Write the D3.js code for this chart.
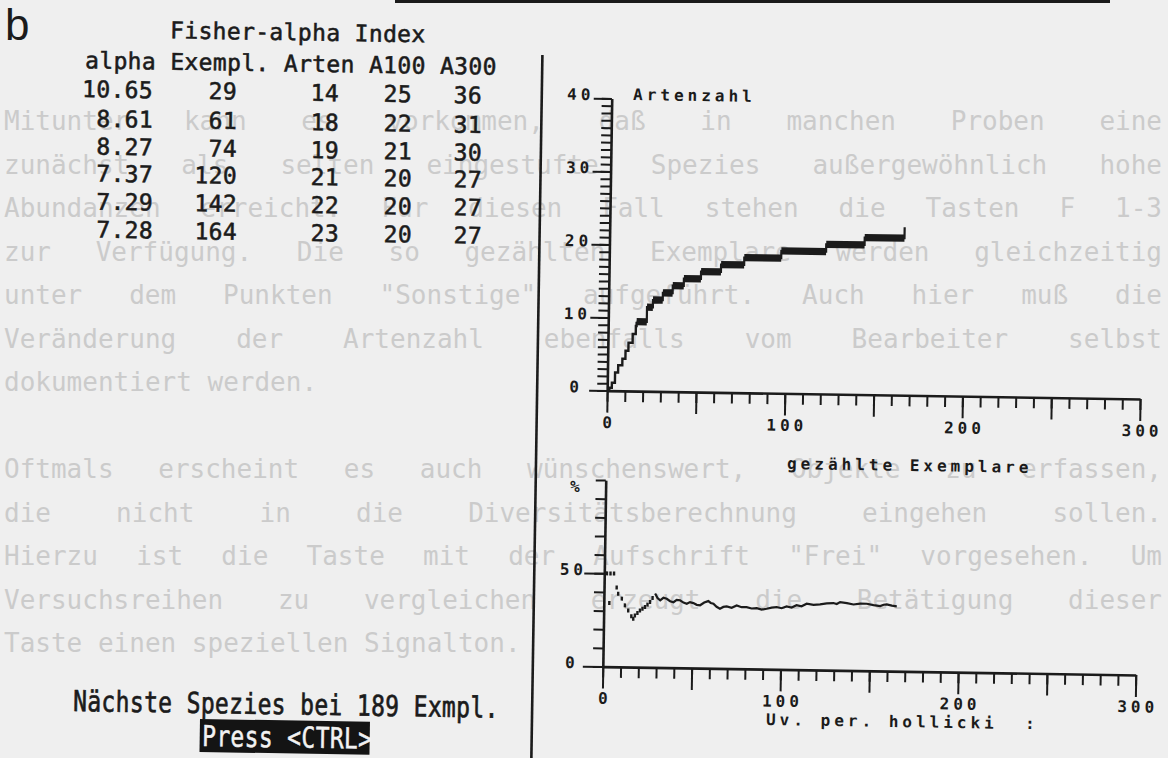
<!DOCTYPE html>
<html>
<head>
<meta charset="utf-8">
<script src="https://cdn.jsdelivr.net/npm/d3@7"></script>
<style>
  body { margin: 0; background: #efefef; }
  svg { display: block; }
</style>
</head>
<body>
<svg id="chart"></svg>
<script>
// ---- values ----
const tableTitle = "Fisher-alpha Index";
const tableHeader = "alpha Exempl. Arten A100 A300";
const alphaValues = ["10.65", "8.61", "8.27", "7.37", "7.29", "7.28"];
const exemplValues = [29, 61, 74, 120, 142, 164];
const artenValues = [14, 18, 19, 21, 22, 23];
const a100Values = [25, 22, 21, 20, 20, 20];
const a300Values = [36, 31, 30, 27, 27, 27];
const nextSpecies = 189;

// species curve: steep thin start
const riseSpecimens = [0, 1.2, 2.6, 4.3, 6.0, 8.3, 10.0, 11.6, 13.9, 15.6];
const riseSpecies   = [0, 0.4, 1.1, 2.5, 3.5, 4.4, 5.5, 6.6, 7.8, 8.9];
// species curve: thick plateaus
const stepStart   = [16, 21.7, 25, 30.5, 36, 42.2, 51.8, 63, 76, 96.8, 122, 143.6];
const stepSpecies = [10, 12, 13, 14, 15, 16, 17, 18, 19, 20, 21, 22];
const lastSpecimen = 166;
const lastSpecies = 23;

// percentage curve: scattered start
const dotSpecimens = [1.5, 3.5, 5.5, 3.1, 7.1, 8.0, 10.1, 11.9, 13.8, 15.6, 16.7, 17.6, 19.0, 20.4, 21.8, 23.2, 24.6, 26.0, 27.4];
const dotPercent   = [50, 50, 50, 34.1, 42.5, 39.2, 36.6, 33.0, 30.3, 27.2, 25.9, 27.7, 29.0, 30.4, 31.3, 32.3, 33.6, 35.0, 37.2];
// percentage curve: continuous part
const lineSpecimens = [28.8, 30.2, 31.7, 33.5, 35.4, 37.3, 39.2, 41.0, 42.9, 44.8,
  46.7, 48.5, 50.4, 52.3, 54.2, 56.5, 58.8, 60.2, 61.7, 63.5,
  65.4, 67.3, 69.2, 72.0, 74.8, 77.6, 80.4, 83.2, 86.1, 88.9,
  91.7, 94.5, 97.3, 100.1, 102.9, 105.7, 108.5, 111.3, 114.2, 118.0,
  121.7, 125.5, 129.2, 131.1, 133.0, 136.8, 140.5, 144.3, 148.0, 151.8,
  155.6, 157.5, 159.3, 162.1, 164.9];
const linePercent = [39.6, 37.2, 36.0, 37.4, 36.9, 35.6, 35.1, 36.4, 36.2, 35.0,
  34.4, 35.3, 34.8, 33.9, 33.7, 35.2, 36.0, 35.0, 34.6, 33.0,
  32.0, 33.0, 33.3, 32.6, 33.9, 33.0, 33.1, 32.4, 32.6, 31.9,
  32.4, 33.0, 33.4, 32.8, 33.8, 33.2, 34.5, 34.0, 35.4, 34.9,
  35.2, 35.8, 36.0, 35.5, 36.6, 36.1, 35.4, 35.9, 35.9, 35.2,
  34.8, 35.5, 35.7, 35.1, 34.8];

const xLabels = [0, 100, 200, 300];
const yTopLabels = [0, 10, 20, 30, 40];
const yBottomLabels = [0, 50];

// faint text showing through the paper
const ghostLines = [
  "Mitunter kann es vorkommen, daß in manchen Proben eine",
  "zunächst als selten eingestufte Spezies außergewöhnlich hohe",
  "Abundanzen erreicht. Für diesen Fall stehen die Tasten F 1-3",
  "zur Verfügung. Die so gezählten Exemplare werden gleichzeitig",
  "unter dem Punkten \"Sonstige\" aufgeführt. Auch hier muß die",
  "Veränderung der Artenzahl ebenfalls vom Bearbeiter selbst",
  "dokumentiert werden.",
  "",
  "Oftmals erscheint es auch wünschenswert, Objekte zu erfassen,",
  "die nicht in die Diversitätsberechnung eingehen sollen.",
  "Hierzu ist die Taste mit der Aufschrift \"Frei\" vorgesehen. Um",
  "Versuchsreihen zu vergleichen erzeugt die Betätigung dieser",
  "Taste einen speziellen Signalton."
];

const W = 1168, H = 758;
const ink = "#1b1b1b";
const mono = "'DejaVu Sans Mono', monospace";

// the scan is turned a little clockwise
const ANG = 0.9, PX = 600, PY = 400, T = ANG * Math.PI / 180;
function unrot(x, y) {
  const dx = x - PX, dy = y - PY;
  return [PX + dx * Math.cos(T) + dy * Math.sin(T), PY - dx * Math.sin(T) + dy * Math.cos(T)];
}

const svg = d3.select("#chart").attr("width", W).attr("height", H);
svg.append("rect").attr("width", W).attr("height", H).attr("fill", "#efefef");

// ghost text, justified with word spacing
const ghost = svg.append("g")
    .attr("font-family", mono)
    .attr("font-size", 26)
    .attr("fill", "#cbcbcb");
ghostLines.forEach((t, i) => {
  if (!t) return;
  const el = ghost.append("text").attr("x", 4).attr("y", 130 + i * 43.5)
      .attr("xml:space", "preserve").text(t);
  if (t.length > 50) {
    const gaps = t.split(" ").length - 1;
    const extra = (1158 - el.node().getComputedTextLength()) / gaps;
    el.attr("word-spacing", Math.max(0, extra));
  }
});

svg.append("text")
    .attr("x", 5).attr("y", 40)
    .attr("font-family", "'Liberation Sans', Arial, sans-serif")
    .attr("font-size", 44)
    .attr("fill", ink)
    .text("b");

svg.append("line")
    .attr("x1", 395).attr("x2", 1110).attr("y1", 1.5).attr("y2", 1.5)
    .attr("stroke", ink).attr("stroke-width", 3);

const page = svg.append("g").attr("transform", `rotate(${ANG},${PX},${PY})`);

// divider
page.append("line")
    .attr("x1", 537).attr("x2", 537).attr("y1", 56).attr("y2", 780)
    .attr("stroke", ink).attr("stroke-width", 2.6);

// ---- table ----
const tbl = page.append("g")
    .attr("font-family", mono)
    .attr("font-size", 23)
    .attr("letter-spacing", 0.35)
    .attr("fill", ink)
    .attr("stroke", ink)
    .attr("stroke-width", 0.55);

let p = unrot(170, 38.3);
tbl.append("text").attr("x", p[0]).attr("y", p[1]).text(tableTitle);
p = unrot(85, 68.3);
tbl.append("text").attr("x", p[0]).attr("y", p[1]).attr("xml:space", "preserve").text(tableHeader);

const rowBase = [97.7, 127.2, 155, 182, 210, 238];
const colRight = [153, 237, 339, 412, 482];
const columns = [alphaValues, exemplValues, artenValues, a100Values, a300Values];
rowBase.forEach((yb, r) => {
  const yy = unrot(120, yb)[1];
  columns.forEach((col, c) => {
    const xx = unrot(colRight[c], yb)[0];
    tbl.append("text").attr("x", xx).attr("y", yy).attr("text-anchor", "end").text(col[r]);
  });
});

// bottom message
p = unrot(73, 711);
tbl.append("text")
    .attr("transform", `translate(${p[0]},${p[1]}) scale(1,1.25)`)
    .attr("xml:space", "preserve")
    .text(`Nächste Spezies bei ${nextSpecies} Exmpl.`);
p = unrot(200, 719);
tbl.append("rect").attr("x", p[0]).attr("y", p[1]).attr("width", 170).attr("height", 33)
    .attr("fill", "#141414").attr("stroke", "none");
p = unrot(202, 746);
tbl.append("text")
    .attr("transform", `translate(${p[0]},${p[1]}) scale(1,1.25)`)
    .attr("fill", "#f2f2f2").attr("stroke", "#f2f2f2").attr("stroke-width", 0.4)
    .text("Press <CTRL>");

// ---- charts ----
const x = d3.scaleLinear().domain([0, 300]).range([607, 1140]);
const yTop = d3.scaleLinear().domain([0, 40]).range([390.5, 98.3]);
const yBot = d3.scaleLinear().domain([0, 100]).range([666.5, 480]);

function styleAxis(s) {
  s.attr("font-family", mono).attr("font-weight", "bold").attr("font-size", 16).attr("letter-spacing", 4);
  s.select(".domain").attr("stroke", ink).attr("stroke-width", 2.6);
  s.selectAll(".tick line").attr("stroke", ink).attr("stroke-width", 2);
  s.selectAll(".tick text").attr("fill", ink);
}

function drawFrame(y, minorStep, yMax, yLabels, majorLen) {
  const g = page.append("g");
  g.append("g").attr("transform", `translate(${x(0)},0)`)
      .call(d3.axisLeft(y).tickValues(d3.range(0, yMax + 1, minorStep)).tickSize(10).tickSizeOuter(0).tickFormat(""))
      .call(styleAxis);
  g.append("g").attr("transform", `translate(${x(0)},0)`)
      .call(d3.axisLeft(y).tickValues(yLabels).tickSize(majorLen).tickSizeOuter(0))
      .call(styleAxis)
      .call(s => s.select(".domain").remove())
      .call(s => s.selectAll(".tick text").attr("x", -31).attr("dy", "0.1em").attr("text-anchor", "middle"));
  g.append("g").attr("transform", `translate(0,${y(0)})`)
      .call(d3.axisBottom(x).tickValues(d3.range(0, 301, 10)).tickSize(11).tickSizeOuter(0).tickFormat(""))
      .call(styleAxis);
  g.append("g").attr("transform", `translate(0,${y(0)})`)
      .call(d3.axisBottom(x).tickValues(d3.range(0, 301, 50)).tickSize(22).tickSizeOuter(0).tickPadding(4)
        .tickFormat(d => xLabels.includes(d) ? d : ""))
      .call(styleAxis)
      .call(s => s.select(".domain").remove())
      .call(s => s.selectAll(".tick text").attr("dx", 2));
  return g;
}

const topG = drawFrame(yTop, 1, 40, yTopLabels, 18);
const botG = drawFrame(yBot, 10, 100, yBottomLabels, 20);

const labelText = (g, pos, txt) => {
  const q = unrot(pos[0], pos[1]);
  g.append("text").attr("x", q[0]).attr("y", q[1])
      .attr("font-family", mono).attr("font-weight", "bold").attr("font-size", 16)
      .attr("letter-spacing", 4).attr("fill", ink)
      .attr("xml:space", "preserve").text(txt);
};
labelText(topG, [633, 100], "Artenzahl");
labelText(topG, [787, 469], "gezählte Exemplare");
labelText(botG, [570, 492], "%");
labelText(botG, [766, 725], "Uv. per. hollicki  :");

// species curve
const rise = riseSpecimens.map((s, i) => [s, riseSpecies[i]]);
topG.append("path")
    .datum(rise.concat([[stepStart[0], stepSpecies[0] - 0.5]]))
    .attr("d", d3.line().x(d => x(d[0])).y(d => yTop(d[1])).curve(d3.curveStepAfter))
    .attr("fill", "none").attr("stroke", ink).attr("stroke-width", 2.4);

const stepEnd = stepStart.slice(1).concat([lastSpecimen]);
topG.selectAll("rect.band")
  .data(stepStart)
  .join("rect")
    .attr("class", "band")
    .attr("x", d => x(d))
    .attr("width", (d, i) => x(stepEnd[i]) - x(d))
    .attr("y", (d, i) => yTop(stepSpecies[i]))
    .attr("height", (d, i) => yTop(stepSpecies[i] - 1) - yTop(stepSpecies[i]))
    .attr("fill", ink);

const joins = stepStart.map((s, i) => [s, stepSpecies[i] - 0.5])
    .concat([[lastSpecimen, stepSpecies[stepSpecies.length - 1] - 0.5], [lastSpecimen, lastSpecies]]);
topG.append("path")
    .datum(joins)
    .attr("d", d3.line().x(d => x(d[0])).y(d => yTop(d[1])).curve(d3.curveStepAfter))
    .attr("fill", "none").attr("stroke", ink).attr("stroke-width", 2.2);

// percentage curve
botG.selectAll("rect.dot")
  .data(dotSpecimens)
  .join("rect")
    .attr("class", "dot")
    .attr("x", d => x(d) - 1.2)
    .attr("y", (d, i) => yBot(dotPercent[i]) - 2)
    .attr("width", 2.4).attr("height", 4)
    .attr("fill", ink);

botG.append("path")
    .datum(lineSpecimens.map((s, i) => [s, linePercent[i]]))
    .attr("d", d3.line().x(d => x(d[0])).y(d => yBot(d[1])))
    .attr("fill", "none").attr("stroke", ink).attr("stroke-width", 2.2)
    .attr("stroke-linejoin", "miter");
</script>
</body>
</html>
